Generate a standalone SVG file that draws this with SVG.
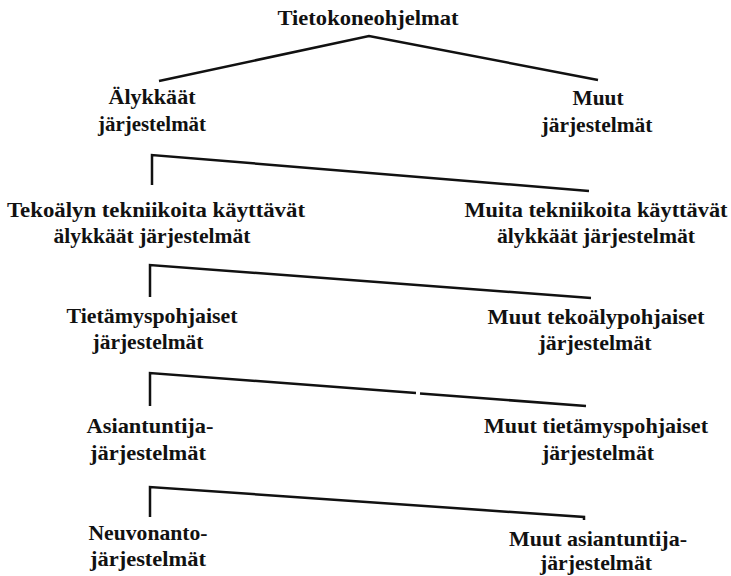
<svg xmlns="http://www.w3.org/2000/svg" width="731" height="576" viewBox="0 0 731 576">
<style>
text{font-family:"Liberation Serif","Times New Roman","DejaVu Serif",serif;font-weight:bold;font-size:22px;fill:#111;text-anchor:middle}
.c{fill:none;stroke:#111;stroke-width:2.5;stroke-linejoin:miter;stroke-linecap:butt}
</style>
<rect width="731" height="576" fill="#fff"/>
<g id="connectors">
<polyline class="c" points="159,81 369,36 598,80"/>
<path class="c" d="M152,185 V155 L589,191"/>
<path class="c" d="M150,297 V265 L591,298"/>
<path class="c" d="M150,406 V373 L416,393 M420,393.5 L586,406"/>
<path class="c" d="M150,517 V487 L584,517 V520"/>
</g>
<g id="n-root"><text x="368" y="25" textLength="181" lengthAdjust="spacingAndGlyphs">Tietokoneohjelmat</text></g>
<g id="n-alykkaat"><text x="152" y="104" textLength="87" lengthAdjust="spacingAndGlyphs">Älykkäät</text><text x="152" y="131" textLength="108" lengthAdjust="spacingAndGlyphs">järjestelmät</text></g>
<g id="n-muut"><text x="598" y="105" textLength="51" lengthAdjust="spacingAndGlyphs">Muut</text><text x="597" y="132" textLength="111" lengthAdjust="spacingAndGlyphs">järjestelmät</text></g>
<g id="n-tekoaly"><text x="156" y="217" textLength="298" lengthAdjust="spacingAndGlyphs">Tekoälyn tekniikoita käyttävät</text><text x="152" y="243" textLength="197" lengthAdjust="spacingAndGlyphs">älykkäät järjestelmät</text></g>
<g id="n-muita"><text x="596" y="217" textLength="263" lengthAdjust="spacingAndGlyphs">Muita tekniikoita käyttävät</text><text x="596" y="243" textLength="198" lengthAdjust="spacingAndGlyphs">älykkäät järjestelmät</text></g>
<g id="n-tietamys"><text x="152" y="323" textLength="171" lengthAdjust="spacingAndGlyphs">Tietämyspohjaiset</text><text x="148" y="349" textLength="111" lengthAdjust="spacingAndGlyphs">järjestelmät</text></g>
<g id="n-muut-tekoaly"><text x="596" y="324" textLength="217" lengthAdjust="spacingAndGlyphs">Muut tekoälypohjaiset</text><text x="595" y="350" textLength="113" lengthAdjust="spacingAndGlyphs">järjestelmät</text></g>
<g id="n-asiantuntija"><text x="150" y="433" textLength="127" lengthAdjust="spacingAndGlyphs">Asiantuntija-</text><text x="148" y="460" textLength="116" lengthAdjust="spacingAndGlyphs">järjestelmät</text></g>
<g id="n-muut-tietamys"><text x="596" y="433" textLength="224" lengthAdjust="spacingAndGlyphs">Muut tietämyspohjaiset</text><text x="598" y="460" textLength="112" lengthAdjust="spacingAndGlyphs">järjestelmät</text></g>
<g id="n-neuvonanto"><text x="148" y="540" textLength="119" lengthAdjust="spacingAndGlyphs">Neuvonanto-</text><text x="148" y="566" textLength="116" lengthAdjust="spacingAndGlyphs">järjestelmät</text></g>
<g id="n-muut-asiantuntija"><text x="598" y="546" textLength="178" lengthAdjust="spacingAndGlyphs">Muut asiantuntija-</text><text x="596" y="570" textLength="112" lengthAdjust="spacingAndGlyphs">järjestelmät</text></g>
</svg>
